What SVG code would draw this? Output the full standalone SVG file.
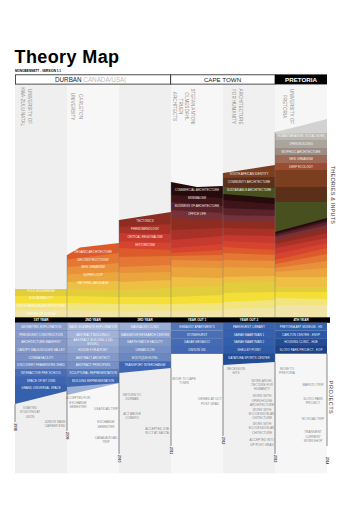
<svg xmlns="http://www.w3.org/2000/svg" width="362" height="512" viewBox="0 0 362 512">
<style>
text{font-family:"Liberation Sans",Arial,sans-serif}
.bl{font-size:3px;fill:#fff;text-anchor:middle;fill-opacity:.92}
.pl{font-size:3px;fill:#fff;text-anchor:middle;fill-opacity:.92}
.an{font-size:3.1px;fill:#8a8a8a;text-anchor:middle}
.hd{font-size:4.6px;fill:#8c8c8c;text-anchor:middle}
.yr{font-size:3.3px;fill:#444;font-weight:bold}
.yb{font-size:3.1px;fill:#fff;text-anchor:middle;font-weight:bold}
.sep{stroke:#7a7a7a;stroke-width:.6;stroke-opacity:.7}
.tl{stroke:#555;stroke-width:.7}
</style>
<rect width="362" height="512" fill="#fff"/>
<g id="title">
<text x="14.5" y="63.3" font-family="Open Sans" font-weight="700" font-size="18" letter-spacing="0.4" fill="#000">Theory Map</text>
<text x="15" y="71.6" font-size="3.1" font-weight="bold" fill="#000">MONOBENNETT - VERSION 1.1</text>
</g>
<g id="columns">
<rect x="15" y="84.3" width="52" height="389" fill="#efefef"/>
<rect x="67" y="84.3" width="52" height="389" fill="#f7f7f7"/>
<rect x="119" y="84.3" width="52" height="389" fill="#efefef"/>
<rect x="171" y="84.3" width="52" height="389" fill="#f7f7f7"/>
<rect x="223" y="84.3" width="52" height="389" fill="#f0f0f0"/>
<rect x="275" y="84.3" width="52" height="389" fill="#f6f6f6"/>
</g>
<g id="header">
<rect x="15.4" y="74.8" width="155.3" height="9.3" fill="#fff" stroke="#222" stroke-width="0.8"/>
<rect x="170.7" y="74.8" width="104.3" height="9.3" fill="#fff" stroke="#222" stroke-width="0.8"/>
<rect x="275" y="74.4" width="52" height="10" fill="#000"/>
<text x="55" y="82.2" font-size="6.3" fill="#222">DURBAN <tspan fill="#bbb">CANADA/USA|</tspan></text>
<text x="222.5" y="82.2" font-size="6.2" fill="#222" text-anchor="middle">CAPE TOWN</text>
<text x="301" y="82.2" font-size="6.2" fill="#fff" font-weight="bold" text-anchor="middle">PRETORIA</text>
</g>
<g id="col-heads" class="hd">
<text transform="translate(28.3,106.5) rotate(90)">UNIVERSITY OF</text>
<text transform="translate(20.7,106.5) rotate(90)">KWA-ZULU NATAL</text>
<text transform="translate(79,106.5) rotate(90)">CARLETON</text>
<text transform="translate(70.8,106.5) rotate(90)">UNIVERSITY</text>
<text transform="translate(190.8,106.5) rotate(90)">STEFAN ANTONI</text>
<text transform="translate(185,106.5) rotate(90)">OLMESDAHL</text>
<text transform="translate(179,106.5) rotate(90)">TRUEN</text>
<text transform="translate(172.6,106.5) rotate(90)">ARCHITECTS</text>
<text transform="translate(239.3,106.5) rotate(90)">ARCHITECTURE</text>
<text transform="translate(231.6,106.5) rotate(90)">FOR HUMANITY</text>
<text transform="translate(290,106.5) rotate(90)">UNIVERSITY OF</text>
<text transform="translate(282.6,106.5) rotate(90)">PRETORIA</text>
</g>
<g id="theories">
<polygon fill="#d2d2d0" points="275,132 300,126 327,119 327,317 275,317"/>
<polygon fill="#bab6b0" points="275,134 327,133 327,317 275,317"/>
<polygon fill="#a9a49d" points="275,140 327,140 327,317 275,317"/>
<polygon fill="#9b8d83" points="275,148 327,148 327,317 275,317"/>
<polygon fill="#9c6a56" points="275,155 327,155 327,317 275,317"/>
<polygon fill="#9c4c33" points="275,163 327,163 327,317 275,317"/>
<polygon fill="#7b3f1f" points="223,173 275,165 275,170 327,170 327,317 223,317"/>
<polygon fill="#5b2f18" points="223,178 275,177 275,187 327,187 327,317 223,317"/>
<polygon fill="#48501f" points="223,187 275,188 275,202 327,202 327,317 223,317"/>
<polygon fill="#250b0c" points="171,182 197,187 223,186 223,194 275,198 275,232 327,218 327,317 171,317"/>
<polygon fill="#3f1419" points="171,195 223,198 223,200 275,204 275,233.5 327,220 327,317 171,317"/>
<polygon fill="#5a2229" points="171,202 223,206 223,208 275,210 275,235 327,222 327,317 171,317"/>
<polygon fill="#763139" points="171,210 223,213 223,215 275,216 275,237 327,225 327,317 171,317"/>
<polygon fill="#8e2c22" points="119,220 171,212 171,218 223,220 223,222 275,222 275,240 327,228 327,317 119,317"/>
<polygon fill="#aa3127" points="119,227 171,224 171,230 223,228 275,229 275,244 327,233 327,317 119,317"/>
<polygon fill="#c5392e" points="119,233 171,234 171,240 223,236 223,235 275,236 275,248 327,238 327,317 119,317"/>
<polygon fill="#d6432f" points="119,241 171,243 171,248 223,244 223,241 275,243 275,254 327,243 327,317 119,317"/>
<polygon fill="#dd5b2b" points="67,255 80,247.5 119,243 119,248 171,250 171,253 223,250 223,247 275,250 275,260 327,248 327,317 67,317"/>
<polygon fill="#e47733" points="67,259.5 119,253 119,257 171,256 223,255 223,253 275,255 275,264 327,254 327,317 67,317"/>
<polygon fill="#e8913a" points="67,267 119,263 119,267 171,265 171,260 223,261 223,260 275,261 275,268 327,261 327,317 67,317"/>
<polygon fill="#eaa53d" points="67,274.5 119,272 119,273 171,272 171,267 223,268 223,267 275,268 275,272 327,268 327,317 67,317"/>
<polygon fill="#edbf42" points="67,282 119,281 119,282 171,280 171,277 223,278 223,277 275,276 275,277 327,277 327,317 67,317"/>
<polygon fill="#e2ce3d" points="15,289 67,289 119,290 171,288 171,287 223,286 223,283 275,282 275,287 327,287 327,317 15,317"/>
<polygon fill="#f3df35" points="15,296 67,296 119,297 171,297 223,295 223,293 275,292 327,292 327,317 15,317"/>
<polygon fill="#f3e57e" points="15,303 67,303 119,304 171,304 223,303 223,302 275,300 275,298 327,299 327,317 15,317"/>
<polygon fill="#f0e4a8" points="15,310 67,310 119,311 171,310 171,311 223,310 223,309 275,308 275,305 327,305 327,317 15,317"/>
</g>
<g id="theory-labels" class="bl">
<text x="41" y="291.8">FOLK MODERNISM</text>
<text x="41" y="299.4">SUSTAINABILITY</text>
<text x="41" y="307.1">SOUTH AFRICAN ARCHITECTURE</text>
<text x="41" y="315.1">THEORY OF ZONING</text>
<text x="93" y="253.4">ORGANIC ARCHITECTURE</text>
<text x="93" y="261.1">DECONSTRUCTIVISM</text>
<text x="93" y="268.4">NEW URBANISM</text>
<text x="93" y="276.4">SUPER LOOP</text>
<text x="93" y="284.1">PATTERN LANGUAGE</text>
<text x="145" y="221.8">TECTONICS</text>
<text x="145" y="230.1">PHENOMENOLOGY</text>
<text x="145" y="238.1">CRITICAL REGIONALISM</text>
<text x="145" y="245.8">HISTORICISM</text>
<text x="197" y="191.4">COMMERCIAL ARCHITECTURE</text>
<text x="197" y="199.4">MINIMALISM</text>
<text x="197" y="206.8">BUSINESS OF ARCHITECTURE</text>
<text x="197" y="214.8">OFFICE LIFE</text>
<text x="249" y="175.4">SOUTH AFRICAN IDENTITY</text>
<text x="249" y="183.4">COMMUNITY ARCHITECTURE</text>
<text x="249" y="191.4">SUSTAINABLE ARCHITECTURE</text>
<text x="301" y="136.8" font-size="2.8">HUMANITARIANISM, SOCIAL WORK</text>
<text x="301" y="145.1">OPEN BUILDING</text>
<text x="301" y="152.8">BIOPHILIC ARCHITECTURE</text>
<text x="301" y="160.1">NEW URBANISM</text>
<text x="301" y="167.8">DEEP ECOLOGY</text>
</g>
<g id="year-bar">
<rect x="15" y="317.3" width="315" height="5.5" fill="#000"/>
<g class="yb">
<text x="41" y="321.2">1ST YEAR</text>
<text x="93" y="321.2">2ND YEAR</text>
<text x="145" y="321.2">3RD YEAR</text>
<text x="197" y="321.2">YEAR OUT 1</text>
<text x="249" y="321.2">YEAR OUT 2</text>
<text x="301" y="321.2">4TH YEAR</text>
</g>
</g>
<g id="projects">
<polygon fill="#3560ad" points="15,322.8 67,322.8 67,391 15,404"/>
<rect x="15" y="322.8" width="52" height="7.8" fill="#8b9ecb"/>
<rect x="15" y="330.5" width="52" height="7.8" fill="#889bca"/>
<rect x="15" y="338.2" width="52" height="7.8" fill="#8598c8"/>
<rect x="15" y="345.9" width="52" height="7.8" fill="#8397c7"/>
<rect x="15" y="353.6" width="52" height="7.8" fill="#7b91c5"/>
<rect x="15" y="361.3" width="52" height="7.8" fill="#6f88c0"/>
<rect x="15" y="369" width="52" height="7.8" fill="#4a6db6"/>
<rect x="15" y="376.7" width="52" height="7.8" fill="#3e65b1"/>
<polygon fill="#9fb0d6" points="67,383 119,383 67,395"/>
<polygon fill="#4068b2" points="67,322.8 119,322.8 119,383 67,387"/>
<rect x="67" y="322.8" width="52" height="7.8" fill="#a9b7d9"/>
<rect x="67" y="330.5" width="52" height="7.8" fill="#a3b2d6"/>
<rect x="67" y="338.2" width="52" height="7.8" fill="#9caed5"/>
<rect x="67" y="345.9" width="52" height="7.8" fill="#90a4cf"/>
<rect x="67" y="353.6" width="52" height="7.8" fill="#8499c9"/>
<rect x="67" y="361.3" width="52" height="7.8" fill="#7790c5"/>
<rect x="67" y="369" width="52" height="7.8" fill="#5578ba"/>
<polygon fill="#3f66b2" points="119,322.8 171,322.8 171,368 119,373"/>
<rect x="119" y="322.8" width="52" height="7.8" fill="#9aaed6"/>
<rect x="119" y="330.5" width="52" height="7.8" fill="#8ea4d0"/>
<rect x="119" y="338.2" width="52" height="7.8" fill="#8199c9"/>
<rect x="119" y="345.9" width="52" height="7.8" fill="#7690c5"/>
<rect x="119" y="353.6" width="52" height="7.8" fill="#6a87c0"/>
<rect x="171" y="322.8" width="52" height="7.8" fill="#5075b9"/>
<rect x="171" y="330.5" width="52" height="7.8" fill="#4a6fb6"/>
<rect x="171" y="338.2" width="52" height="7.8" fill="#466bb4"/>
<rect x="171" y="345.9" width="52" height="8" fill="#4268b3"/>
<polygon fill="#234c95" points="223,322.8 275,322.8 275,362 223,365"/>
<rect x="223" y="322.8" width="52" height="7.8" fill="#3a63ae"/>
<rect x="223" y="330.5" width="52" height="7.8" fill="#3761ad"/>
<rect x="223" y="338.2" width="52" height="7.8" fill="#335eab"/>
<rect x="223" y="345.9" width="52" height="7.8" fill="#2f5aa8"/>
<rect x="275" y="322.8" width="52" height="7.8" fill="#3462ac"/>
<rect x="275" y="330.5" width="52" height="7.8" fill="#2b58a5"/>
<rect x="275" y="338.2" width="52" height="7.8" fill="#234c97"/>
<rect x="275" y="345.9" width="52" height="7.8" fill="#1d4287"/>
</g>
<g id="project-labels" class="pl">
<text x="41" y="327.8">GEOMETRIC EXPLORATION</text>
<text x="41" y="335.5">PRECEDENT CONSTRUCTION</text>
<text x="41" y="343.2">ARCHITECTURE MANIFEST</text>
<text x="41" y="350.9">CANOPY WALK/GOLDEN VALLEY</text>
<text x="41" y="358.6">COMMA FACILITY</text>
<text x="41" y="366.3">DISCOVERY FRAMEWORK SHED</text>
<text x="41" y="374">INTERACTIVE PRE SCHOOL</text>
<text x="41" y="381.7">SPACE OF MY OWN</text>
<text x="41" y="389.4">GRAND UNIVERSAL SPACE</text>
<text x="93" y="327.8">BASIC ELEMENTS EXPLORATION</text>
<text x="93" y="335.5">ABSTRACT BUILDING 1</text>
<text x="93" y="341.3">ABSTRACT BUILDING 4 (3D</text>
<text x="93" y="345.4">MODEL)</text>
<text x="93" y="350.9">HOUSE FOR A POET</text>
<text x="93" y="358.6">ABSTRACT ARCHITECT</text>
<text x="93" y="366.3">ABSTRACT PRINCIPLES</text>
<text x="93" y="374">SCULPTURAL REPRESENTATION</text>
<text x="93" y="381.7">BUILDING REPRESENTATION</text>
<text x="145" y="327.8">MANGALISO CLINIC</text>
<text x="145" y="335.5">MANGROVE RESEARCH CENTER</text>
<text x="145" y="343.2">EARTH WATCH FACILITY</text>
<text x="145" y="350.9">URBAN ICON</text>
<text x="145" y="358.6">BOUTIQUE HOTEL</text>
<text x="145" y="366.3">TRANSPORT INTERCHANGE</text>
<text x="197" y="327.8">EMBASSY APARTMENTS</text>
<text x="197" y="335.5">STONEHURST</text>
<text x="197" y="343.2">DAKAR MEXASO2</text>
<text x="197" y="350.9">UNISON 345</text>
<text x="249" y="327.8">PARKHURST LIBRARY</text>
<text x="249" y="335.5">SARAH BAARTMAN 1</text>
<text x="249" y="343.2">SARAH BAARTMAN 2</text>
<text x="249" y="350.9">SHELLEY POINT</text>
<text x="249" y="358.6">KATATURA SPORTS CENTER</text>
<text x="301" y="327.8">PRETORIA ART MUSEUM - HS</text>
<text x="301" y="335.5">CARLTON CENTRE - ENVP</text>
<text x="301" y="343.2">HOUSING CLINIC - HUE</text>
<text x="301" y="350.9">SLOVO PARK PROJECT - EOP</text>
</g>
<g id="connectors">
<line class="sep" x1="67" y1="255" x2="67" y2="317"/>
<line class="sep" x1="119" y1="220" x2="119" y2="317"/>
<line class="sep" x1="171" y1="182" x2="171" y2="317"/>
<line class="sep" x1="223" y1="173" x2="223" y2="317"/>
<line class="sep" x1="275" y1="132" x2="275" y2="317"/>
<line class="sep" x1="67" y1="323" x2="67" y2="391"/>
<line class="sep" x1="119" y1="323" x2="119" y2="373"/>
<line class="sep" x1="171" y1="323" x2="171" y2="368"/>
<line class="sep" x1="223" y1="323" x2="223" y2="365"/>
<line class="sep" x1="275" y1="323" x2="275" y2="362"/>
<line class="tl" x1="15" y1="404" x2="15" y2="422"/>
<line class="tl" x1="67" y1="391" x2="67" y2="431"/>
<line class="tl" x1="119" y1="373" x2="119" y2="454"/>
<line class="tl" x1="171" y1="368" x2="171" y2="446"/>
<line class="tl" x1="223" y1="365" x2="223" y2="436"/>
<line class="tl" x1="275" y1="362" x2="275" y2="454"/>
<line class="tl" x1="327" y1="353.6" x2="327" y2="446" stroke="#999"/>
</g>
<g id="years" class="yr">
<text transform="translate(13.8,423.5) rotate(90)">2008</text>
<text transform="translate(65.8,432) rotate(90)">2009</text>
<text transform="translate(117.8,455) rotate(90)">2010</text>
<text transform="translate(169.8,447) rotate(90)">2011</text>
<text transform="translate(221.8,437) rotate(90)">2012</text>
<text transform="translate(273.8,455) rotate(90)">2013</text>
<text transform="translate(325.8,457) rotate(90)">2014</text>
</g>
<g id="notes" class="an">
<text x="30" y="408.8">STARTED</text>
<text x="30" y="413.4">STUDYING AT</text>
<text x="30" y="417.8">UKZN</text>
<text x="55" y="422.8">JUNIOR RANK</text>
<text x="55" y="427.1">CAREER END</text>
<text x="78" y="399.4">ACCEPTED FOR</text>
<text x="78" y="403.8">EXCHANGE</text>
<text x="78" y="408.4">SEMESTER</text>
<text x="106" y="410.1">USA ROAD TRIP</text>
<text x="106" y="423.4">EXCHANGE</text>
<text x="106" y="427.8">SEMESTER</text>
<text x="106" y="439.4">CANADA ROAD</text>
<text x="106" y="443.4">TRIP</text>
<text x="132" y="396.1">RETURN TO</text>
<text x="132" y="400.4">DURBAN</text>
<text x="132" y="415.1">ACT ABOVE</text>
<text x="132" y="419.4">CONERO</text>
<text x="157" y="430.1">ACCEPTED JOB</text>
<text x="157" y="434.4">IN CT AT SAOTA</text>
<text x="184" y="380.1">MOVE TO CAPE</text>
<text x="184" y="384.4">TOWN</text>
<text x="210" y="400.4">DENIED AT UCT</text>
<text x="210" y="404.8">POST GRAD</text>
<text x="236" y="370.1">RECESSION</text>
<text x="236" y="374.4">HITS</text>
<text x="262" y="381.8">WORK ARCHI-</text>
<text x="262" y="386.1">TECTURE FOR</text>
<text x="262" y="390.4">HUMANITY</text>
<text x="262" y="397.1">WORK WITH</text>
<text x="262" y="401.8">OPEN HOUSE</text>
<text x="262" y="406.1">ARCHITECTURE</text>
<text x="262" y="410.8">WORK WITH</text>
<text x="262" y="415.1">ECOCESSION AR-</text>
<text x="262" y="419.4">CHITECTURE</text>
<text x="262" y="424.8">WORK WITH</text>
<text x="262" y="429.4">ECOCESSION AR-</text>
<text x="262" y="433.8">CHITECTURE</text>
<text x="262" y="441.4">ACCEPTED INTO</text>
<text x="262" y="446.1">UP POST GRAD</text>
<text x="287" y="370.1">MOVE TO</text>
<text x="287" y="374.4">PRETORIA</text>
<text x="313" y="386.1">MAPUTO TRIP</text>
<text x="313" y="400.1">SLOVO PARK</text>
<text x="313" y="404.4">PROJECT</text>
<text x="313" y="420.1">NO ROAD TRIP</text>
<text x="313" y="433.4">TRANSIENT</text>
<text x="313" y="437.8">CURRENT</text>
<text x="313" y="442.1">WORKSHOP</text>
</g>
<g id="side-labels" font-size="5.5" fill="#333">
<text transform="translate(330.5,195) rotate(90)" text-anchor="middle" letter-spacing="0.2">THEORIES &amp; INPUTS</text>
<text transform="translate(328.5,397.5) rotate(90)" text-anchor="middle" letter-spacing="0.5">PROJECTS</text>
</g>
</svg>
